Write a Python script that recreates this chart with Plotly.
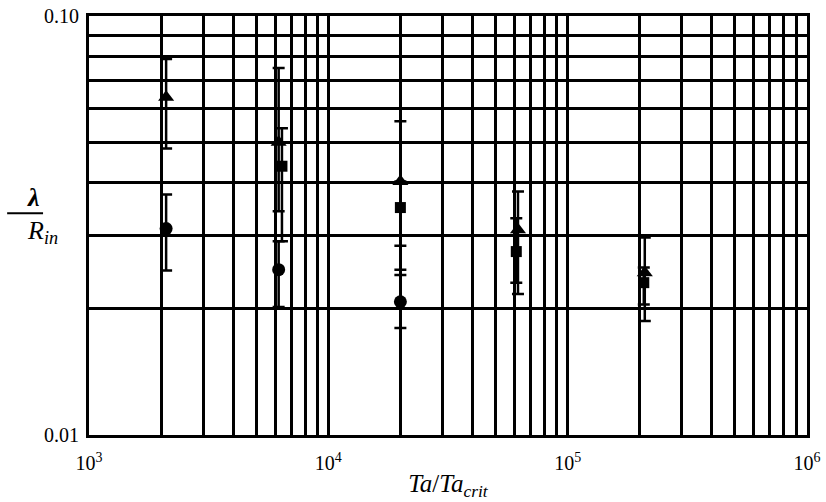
import plotly.graph_objects as go

# Triangles
tri_x = [2100, 6200, 20000, 62000, 210000]
tri_y = [0.064, 0.050, 0.0403, 0.0309, 0.0244]
tri_lo = [0.0483, 0.0342, 0.0283, 0.0217, 0.0187]
tri_hi = [0.0789, 0.0751, 0.0561, 0.0381, 0.0296]

# Circles
cir_x = [2100, 6200, 20000]
cir_y = [0.0311, 0.0248, 0.0208]
cir_lo = [0.0247, 0.0202, 0.0180]
cir_hi = [0.0375, 0.0290, 0.0248]

# Squares
sq_x = [6400, 20000, 61000, 208000]
sq_y = [0.0438, 0.0349, 0.0274, 0.0231]
sq_lo = [0.0290, 0.0241, 0.0231, 0.0205]
sq_hi = [0.0540, 0.0403, 0.0329, 0.0251]

x_major = [1e3, 1e4, 1e5, 1e6]
x_major_text = ["10<sup>3</sup>", "10<sup>4</sup>", "10<sup>5</sup>", "10<sup>6</sup>"]
y_major = [0.01, 0.1]
y_major_text = ["0.01", "0.10"]

x_minor = [m * d for d in [1e3, 1e4, 1e5] for m in range(2, 10)]
y_minor = [m * 0.01 for m in range(2, 10)]

FONT = "Liberation Serif"


def series(x, y, lo, hi, symbol, size):
    return go.Scatter(
        x=x, y=y, mode="markers",
        marker=dict(symbol=symbol, size=size, color="black"),
        error_y=dict(type="data", symmetric=False,
                     array=[h - v for h, v in zip(hi, y)],
                     arrayminus=[v - l for l, v in zip(lo, y)],
                     color="black", thickness=2.5, width=6),
        showlegend=False, cliponaxis=False,
    )


fig = go.Figure()
fig.add_trace(series(tri_x, tri_y, tri_lo, tri_hi, "triangle-up", 14))
fig.add_trace(series(sq_x, sq_y, sq_lo, sq_hi, "square", 11))
fig.add_trace(series(cir_x, cir_y, cir_lo, cir_hi, "circle", 13))

axis_common = dict(
    showline=True, linecolor="black", linewidth=3, mirror=True,
    showgrid=True, gridcolor="black", gridwidth=2.5,
    ticks="", zeroline=False, automargin=False,
    tickfont=dict(family=FONT, size=20, color="black"),
)

fig.update_xaxes(
    type="log", range=[3, 6],
    tickmode="array", tickvals=x_major, ticktext=x_major_text,
    ticklabelstandoff=8,
    minor=dict(tickmode="array", tickvals=x_minor, showgrid=True,
               gridcolor="black", gridwidth=2.5, ticks=""),
    title=dict(text="<i>Ta</i>/<i>Ta<sub>crit</sub></i>",
               font=dict(family=FONT, size=25, color="black"), standoff=2),
    **axis_common,
)
fig.update_yaxes(
    type="log", range=[-2, -1],
    tickmode="array", tickvals=y_major, ticktext=y_major_text,
    ticklabelstandoff=3,
    minor=dict(tickmode="array", tickvals=y_minor, showgrid=True,
               gridcolor="black", gridwidth=2.5, ticks=""),
    **axis_common,
)

# y-axis label as a fraction lambda / R_in
fig.add_annotation(xref="paper", yref="paper", x=-0.089, y=0.567,
                   text="<b><i>λ</i></b>", showarrow=False,
                   font=dict(family=FONT, size=26, color="black"))
fig.add_annotation(xref="paper", yref="paper", x=-0.089, y=0.485,
                   text="<i>R<sub>in</sub></i>", showarrow=False,
                   font=dict(family=FONT, size=26, color="black"))
fig.add_shape(type="line", xref="paper", yref="paper",
              x0=-0.114, x1=-0.064, y0=0.529, y1=0.529,
              line=dict(color="black", width=2))

fig.update_layout(
    width=826, height=502,
    margin=dict(l=89, r=19, t=16, b=67),
    plot_bgcolor="white", paper_bgcolor="white",
    font=dict(family=FONT, color="black"),
)

fig.write_html(
    "out.html",
    config={"displayModeBar": False},
    post_script="document.body.style.margin='0px';document.body.style.overflow='hidden';",
)
